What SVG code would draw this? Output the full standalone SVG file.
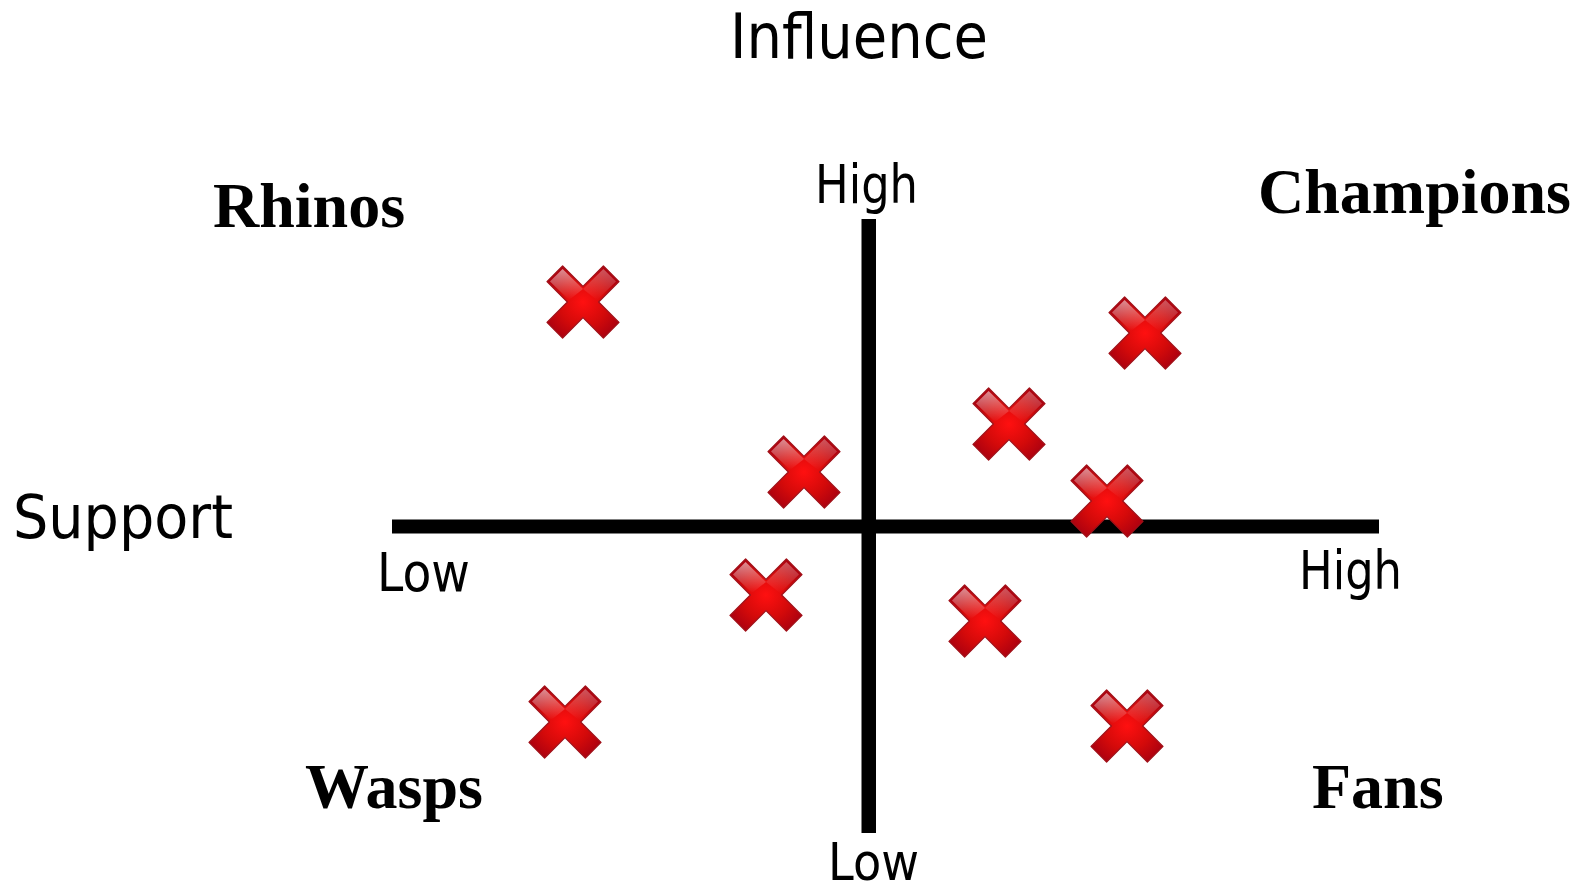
<svg xmlns="http://www.w3.org/2000/svg" width="1582" height="892" viewBox="0 0 1582 892">
<style>
.ax{fill:#000}
.lbl{font-family:"DejaVu Sans","Liberation Sans",sans-serif;fill:#000}
.q{font-family:"Liberation Serif","Times New Roman",serif;font-weight:bold;font-size:64px;fill:#000}
</style>
<defs>
<radialGradient id="xg" cx="0.5" cy="0.5" r="0.6">
<stop offset="0" stop-color="#ff1010"/>
<stop offset="0.55" stop-color="#d40a0a"/>
<stop offset="1" stop-color="#a80010"/>
</radialGradient>
<linearGradient id="hl" x1="0" y1="0" x2="0" y2="1">
<stop offset="0" stop-color="#fff" stop-opacity="0.55"/>
<stop offset="1" stop-color="#fff" stop-opacity="0"/>
</linearGradient>
<g id="xm">
<polygon points="0,-15.6 20.4,-36 36,-20.4 15.6,0 36,20.4 20.4,36 0,15.6 -20.4,36 -36,20.4 -15.6,0 -36,-20.4 -20.4,-36" fill="url(#xg)" stroke="#a01018" stroke-width="1.3" stroke-linejoin="round"/>
<polygon points="-20.4,-33 -33,-20.4 -14,-2 0,-13" fill="url(#hl)"/>
<polygon points="20.4,-33 33,-20.4 14,-2 0,-13" fill="url(#hl)" opacity="0.6"/>
</g>
</defs>
<rect width="1582" height="892" fill="#fff"/>
<g id="connectors">
<rect class="ax" x="392" y="519.5" width="987" height="14"/>
<rect class="ax" x="861.5" y="219" width="14.5" height="614"/>
</g>
<g id="title-influence"><text class="lbl" x="730" y="58" font-size="62" textLength="258" lengthAdjust="spacingAndGlyphs">Influence</text></g>
<g id="title-support"><text class="lbl" x="13" y="538" font-size="60" textLength="220" lengthAdjust="spacingAndGlyphs">Support</text></g>
<g id="axis-high-top"><text class="lbl" x="815" y="203" font-size="53" textLength="103" lengthAdjust="spacingAndGlyphs">High</text></g>
<g id="axis-low-bottom"><text class="lbl" x="828" y="880" font-size="51" textLength="91" lengthAdjust="spacingAndGlyphs">Low</text></g>
<g id="axis-low-left"><text class="lbl" x="377" y="591" font-size="53" textLength="93" lengthAdjust="spacingAndGlyphs">Low</text></g>
<g id="axis-high-right"><text class="lbl" x="1299" y="589" font-size="53" textLength="103" lengthAdjust="spacingAndGlyphs">High</text></g>
<g id="q-rhinos"><text class="q" x="213" y="227">Rhinos</text></g>
<g id="q-champions"><text class="q" x="1258" y="213">Champions</text></g>
<g id="q-wasps"><text class="q" x="305" y="808">Wasps</text></g>
<g id="q-fans"><text class="q" x="1312" y="808">Fans</text></g>
<g id="x1"><use href="#xm" x="583" y="302"/></g>
<g id="x2"><use href="#xm" x="1145" y="333"/></g>
<g id="x3"><use href="#xm" x="1009" y="424"/></g>
<g id="x4"><use href="#xm" x="804" y="472"/></g>
<g id="x5"><use href="#xm" x="1107" y="501"/></g>
<g id="x6"><use href="#xm" x="766" y="595"/></g>
<g id="x7"><use href="#xm" x="985" y="621"/></g>
<g id="x8"><use href="#xm" x="565" y="722"/></g>
<g id="x9"><use href="#xm" x="1127" y="726"/></g>
</svg>
